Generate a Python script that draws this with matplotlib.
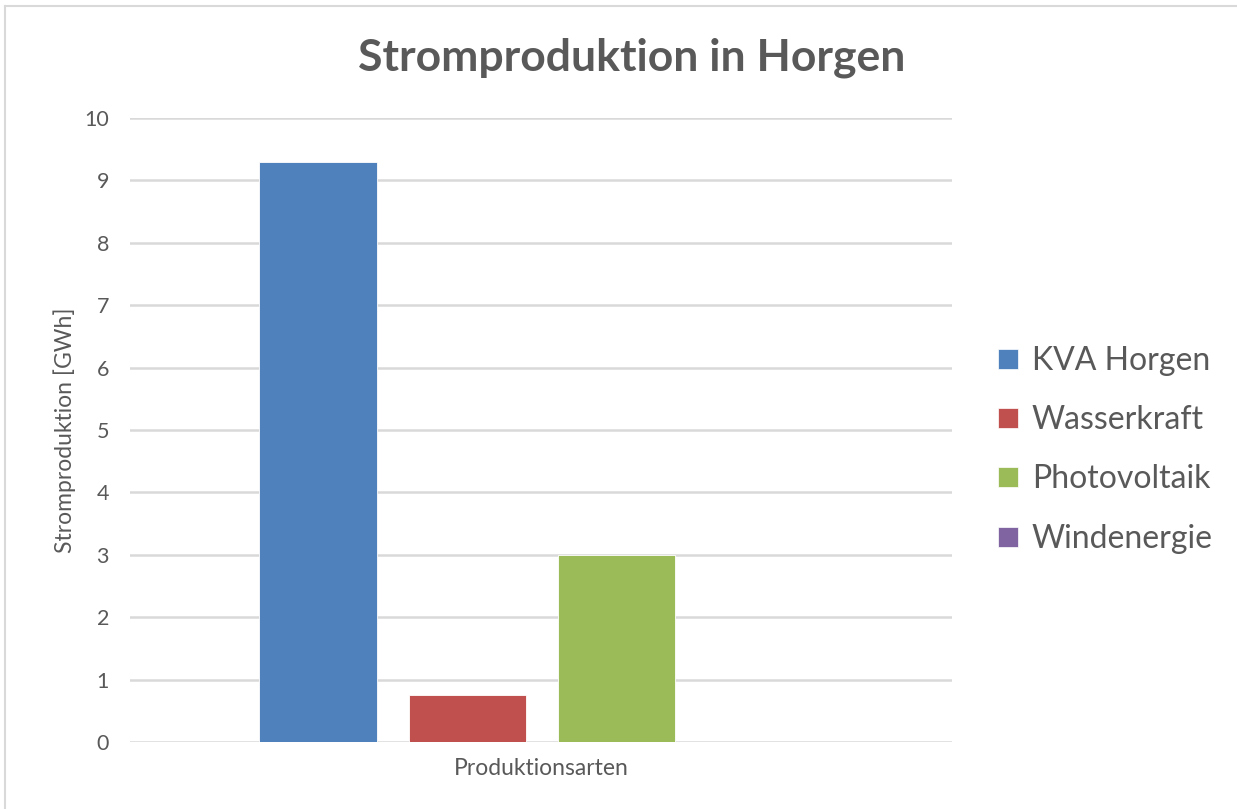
import matplotlib.pyplot as plt
from matplotlib.lines import Line2D

# Daten
arten = ['KVA Horgen', 'Wasserkraft', 'Photovoltaik', 'Windenergie']
werte = [9.3, 0.75, 3.0, 0.0]
farben = ['#4F81BD', '#C0504D', '#9BBB59', '#8064A2']
y_ticks = [0, 1, 2, 3, 4, 5, 6, 7, 8, 9, 10]

grau = '#595959'
plt.rcParams['font.family'] = ['Lato', 'DejaVu Sans']

fig = plt.figure(figsize=(12.37, 8.09), dpi=100)
ax = fig.add_axes([0.105, 0.0828, 0.665, 0.7713])

pos = list(range(len(arten)))
for i, (name, w, c) in enumerate(zip(arten, werte, farben)):
    ax.bar(pos[i], w, width=0.785, color=c, edgecolor='white', linewidth=0.6,
           label=name, zorder=3)

ax.set_xlim(-1.26, 4.25)
ax.set_ylim(0, 10)
ax.set_yticks(y_ticks)
ax.set_xticks([])
ax.grid(axis='y', color='#d9d9d9', linewidth=1.8, zorder=0)
for s in ax.spines.values():
    s.set_visible(False)
ax.tick_params(axis='y', length=0, pad=15, labelsize=15.5, labelcolor=grau)

ax.set_ylabel('Stromproduktion [GWh]', fontsize=16.5, color=grau, labelpad=6)
ax.text(0.5, -0.025, 'Produktionsarten', transform=ax.transAxes, ha='center',
        va='top', fontsize=16.5, color=grau)

fig.text(0.511, 0.928, 'Stromproduktion in Horgen', ha='center', va='center',
         fontsize=32, fontweight='bold', color=grau)

handles = [Line2D([0], [0], marker='s', linestyle='none', markersize=15,
                  markerfacecolor=c, markeredgecolor='white', markeredgewidth=0.5)
           for c in farben]
fig.legend(handles, arten, loc='center left', bbox_to_anchor=(0.78, 0.444),
           frameon=False, fontsize=23, labelcolor=grau, handletextpad=0.3,
           labelspacing=0.92, handlelength=0.9)

# Rahmen
fig.add_artist(Line2D([0.004, 1.0], [0.992, 0.992], transform=fig.transFigure,
                      color='#d9d9d9', linewidth=1.5))
fig.add_artist(Line2D([0.004, 0.004], [0.0, 0.992], transform=fig.transFigure,
                      color='#d9d9d9', linewidth=1.5))

fig.savefig('out.png', dpi=100)
